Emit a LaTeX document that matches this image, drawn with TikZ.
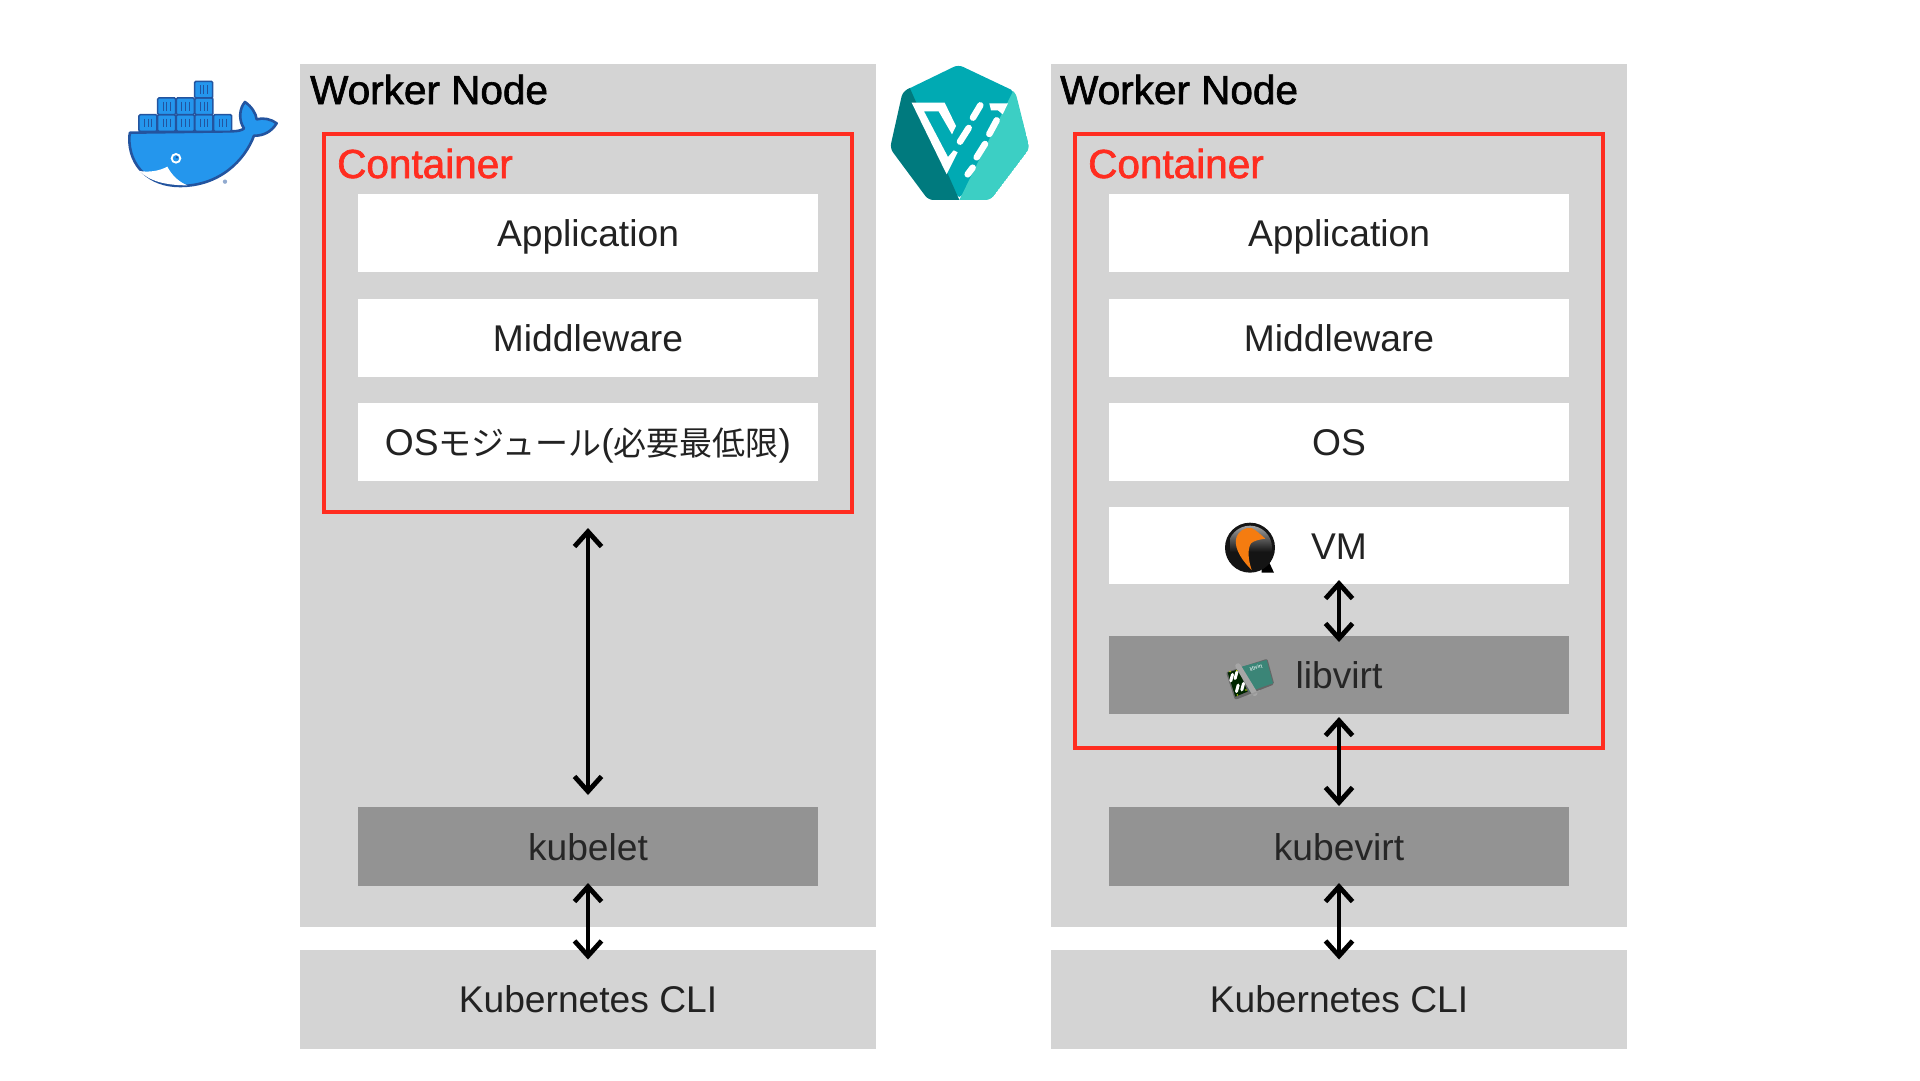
\documentclass[tikz,border=0pt]{standalone}
\usepackage{fontspec}
\setmainfont{Liberation Sans}
\newfontfamily\cjk{Noto Sans CJK JP}
\newfontfamily\headfont[FakeBold=1.6]{Liberation Sans}
\usetikzlibrary{arrows.meta}
\definecolor{panelgray}{HTML}{D4D4D4}
\definecolor{darkgray}{HTML}{939393}
\definecolor{redline}{HTML}{FF2D20}
\definecolor{inkdark}{HTML}{222222}
\definecolor{dockerblue}{HTML}{2496ED}
\definecolor{dockerline}{HTML}{23549F}
\definecolor{kvtop}{HTML}{00AAB3}
\definecolor{kvdark}{HTML}{007A7E}
\definecolor{kvlight}{HTML}{3CCFC4}
\definecolor{qorange}{HTML}{F57C10}
\definecolor{lvgreen}{HTML}{3B8577}
\tikzset{
  panel/.style={fill=panelgray,draw=none,inner sep=0,outer sep=0,minimum width=576pt,text height=27.4pt,text depth=0pt,font=\fontsize{37.2}{40}\selectfont,text=inkdark},
  redbox/.style={draw=redline,line width=3.6pt,fill=none,inner sep=0,outer sep=0},
  whitebox/.style={fill=white,draw=none,inner sep=0,outer sep=0,minimum width=460pt,minimum height=78pt,text height=27.4pt,text depth=0pt,font=\fontsize{37.2}{40}\selectfont,text=inkdark},
  graybox/.style={whitebox,fill=darkgray,text=black!85},
  headlabel/.style={anchor=base west,inner sep=0,font=\headfont\fontsize{40.5}{40}\selectfont,text=black},
  redlabel/.style={anchor=base west,inner sep=0,font=\headfont\fontsize{40.5}{40}\selectfont,text=redline},
  link/.style={line width=4.8pt,black,{Straight Barb[length=15pt,width=27pt]}-{Straight Barb[length=15pt,width=27pt]}},
  dcont/.style={fill=dockerblue,draw=dockerline,line width=1.5pt,rounded corners=1.2pt},
}
\begin{document}
\begin{tikzpicture}[x=1pt,y=-1pt]
\useasboundingbox (0,0) rectangle (1920,1080);
% left column
\node[panel,minimum height=863pt] (workerL) at (588,495.5) {};
\node[panel,minimum height=99pt] (cliL) at (588,999) {Kubernetes CLI};
\node[headlabel] (workerLabelL) at (310,104) {Worker Node};
\node[redbox,minimum width=528pt,minimum height=378pt] (redL) at (588,323) {};
\node[redlabel] (containerLabelL) at (337,178) {Container};
\node[whitebox] (appL) at (588,233) {Application};
\node[whitebox] (midL) at (588,338) {Middleware};
\node[whitebox] (osL) at (588,442) {OS{\cjk\fontsize{33}{40}\selectfont モジュール}({\cjk\fontsize{33}{40}\selectfont 必要最低限})};
\node[graybox,minimum height=79pt] (kubelet) at (588,846.5) {kubelet};
\draw[link,shorten <=16pt,shorten >=12pt] (redL.south) -- (kubelet.north);
\draw[link,shorten <=-3pt,shorten >=-10pt] (kubelet.south) -- (cliL.north);
% right column
\node[panel,minimum height=863pt] (workerR) at (1339,495.5) {};
\node[panel,minimum height=99pt] (cliR) at (1339,999) {Kubernetes CLI};
\node[headlabel] (workerLabelR) at (1060,104) {Worker Node};
\node[redbox,minimum width=528pt,minimum height=614pt] (redR) at (1339,441) {};
\node[redlabel] (containerLabelR) at (1088,178) {Container};
\node[whitebox] (appR) at (1339,233) {Application};
\node[whitebox] (midR) at (1339,338) {Middleware};
\node[whitebox] (osR) at (1339,442) {OS};
\node[whitebox,minimum height=77pt] (vm) at (1339,545.5) {VM};
\node[graybox,minimum height=78pt] (libvirt) at (1339,675) {libvirt};
\node[graybox,minimum height=79pt] (kubevirt) at (1339,846.5) {kubevirt};
\draw[link,shorten <=-4pt,shorten >=-6pt] (vm.south) -- (libvirt.north);
\draw[link,shorten <=3pt,shorten >=1pt] (libvirt.south) -- (kubevirt.north);
\draw[link,shorten <=-3pt,shorten >=-10pt] (kubevirt.south) -- (cliR.north);
% docker logo
\begin{scope}[shift={(100,40)},x=0.3333pt,y=-0.3333pt]
  \draw[fill=dockerblue,draw=dockerline,line width=2.6pt,line join=round]
    (90,278) -- (395,274) .. controls (415,274) and (428,270) .. (432,265)
    .. controls (415,240) and (418,205) .. (435,186)
    .. controls (455,200) and (468,220) .. (470,238)
    .. controls (490,232) and (515,238) .. (530,250)
    .. controls (515,275) and (490,288) .. (462,287)
    .. controls (435,360) and (360,438) .. (240,438)
    .. controls (150,438) and (85,380) .. (88,290) -- cycle;
  \fill[white] (118,393) .. controls (150,398) and (180,392) .. (202,380)
    .. controls (215,405) and (235,425) .. (262,436)
    .. controls (200,436) and (150,425) .. (118,393) -- cycle;
  \foreach \cx/\cy in {144/249,200/249,256/249,312/249,368/249,200/199,256/199,312/199,311/149}{
    \draw[dcont] (\cx-27,\cy-25) rectangle (\cx+27,\cy+25);
    \foreach \dx in {-11,0,11}
      \draw[dockerline,line width=0.9pt] (\cx+\dx,\cy-13) -- (\cx+\dx,\cy+13);
  }
  \fill[white] (228,355) circle (16);
  \fill[dockerblue] (228,355) circle (9.5);
  \fill[dockerline] (231,352) circle (4);
  \fill[dockerline!50] (375,425) circle (6.5);
\end{scope}
% kubevirt logo
\begin{scope}[shift={(870,40)},x=0.3333pt,y=-0.3333pt]
  \fill[kvtop,rounded corners=5pt] (265,74) -- (436,155) -- (390,300) -- (268,478) -- (150,300) -- (98,155) -- cycle;
  \begin{scope}
    \clip (100,100) -- (60,325) -- (175,480) -- (268,480) -- cycle;
    \fill[kvdark,rounded corners=5pt] (265,74) -- (436,155) -- (479,325) -- (362,480) -- (175,480) -- (60,325) -- (98,155) -- cycle;
  \end{scope}
  \begin{scope}
    \clip (436,140) -- (479,325) -- (362,480) -- (268,480) -- cycle;
    \fill[kvlight,rounded corners=5pt] (265,74) -- (436,155) -- (479,325) -- (362,480) -- (175,480) -- (60,325) -- (98,155) -- cycle;
  \end{scope}
  \fill[white] (125,188) -- (224,188) -- (258,258) -- (246,283) -- (206,214) -- (162,214) -- (234,351) -- (251,331) -- (263,337) -- (230,403) -- cycle;
  \fill[white] (358,190) -- (414,190) -- (398,223) -- (384,211) -- (363,211) -- cycle;
  \draw[white,line width=6.5pt,line cap=round]
    (331,196) -- (309,233)
    (296,264) -- (270,305)
    (380,241) -- (358,282)
    (345,312) -- (320,352)
    (308,383) -- (293,403);
\end{scope}
% qemu logo
\begin{scope}[shift={(1180,500)},x=0.3333pt,y=-0.3333pt]
  \fill[black] (245,190) -- (268,188) -- (282,218) -- (245,218) -- cycle;
  \fill[black!92] (210,143) circle (75);
  \begin{scope}
    \clip (210,143) circle (66);
    \shade[top color=black!35,bottom color=black!92] (150,75) rectangle (285,155);
  \end{scope}
  \fill[qorange] (168,118) .. controls (172,95) and (195,80) .. (215,84)
    .. controls (230,92) and (240,102) .. (256,116)
    .. controls (240,118) and (222,122) .. (213,130)
    .. controls (203,145) and (203,175) .. (215,210)
    .. controls (190,185) and (163,150) .. (168,118) -- cycle;
\end{scope}
% libvirt logo
\begin{scope}[shift={(1180,500)},x=0.3333pt,y=-0.3333pt]
  \fill[black!60,rounded corners=2pt] (138,517) -- (262,476) -- (283,553) -- (165,600) -- cycle;
  \fill[lvgreen] (185,500) -- (260,480) -- (279,550) -- (208,575) -- cycle;
  \fill[black!85!green] (143,518) -- (175,508) -- (203,575) -- (166,590) -- cycle;
  \draw[black!35,line width=5.5pt,line cap=round] (174,498) -- (224,580);
  \draw[black!40,line width=1.5pt] (205,588) -- (240,572);
  \foreach \ox/\oy in {155/533,168/526,172/565,188/560}
    \draw[white,line width=3pt,line cap=round,rotate around={-15:(\ox,\oy)}] (\ox,\oy-10) -- (\ox,\oy+10);
  \foreach \ox/\oy in {150/515,170/512,172/585,198/570}
    \fill[yellow!80!green] (\ox,\oy) circle (2.5);
  \node[text=white,inner sep=0,rotate=18,font=\fontsize{5.5}{6}\selectfont] (libvirtBadge) at (228,503) {libvirt};
\end{scope}
\end{tikzpicture}
\end{document}
